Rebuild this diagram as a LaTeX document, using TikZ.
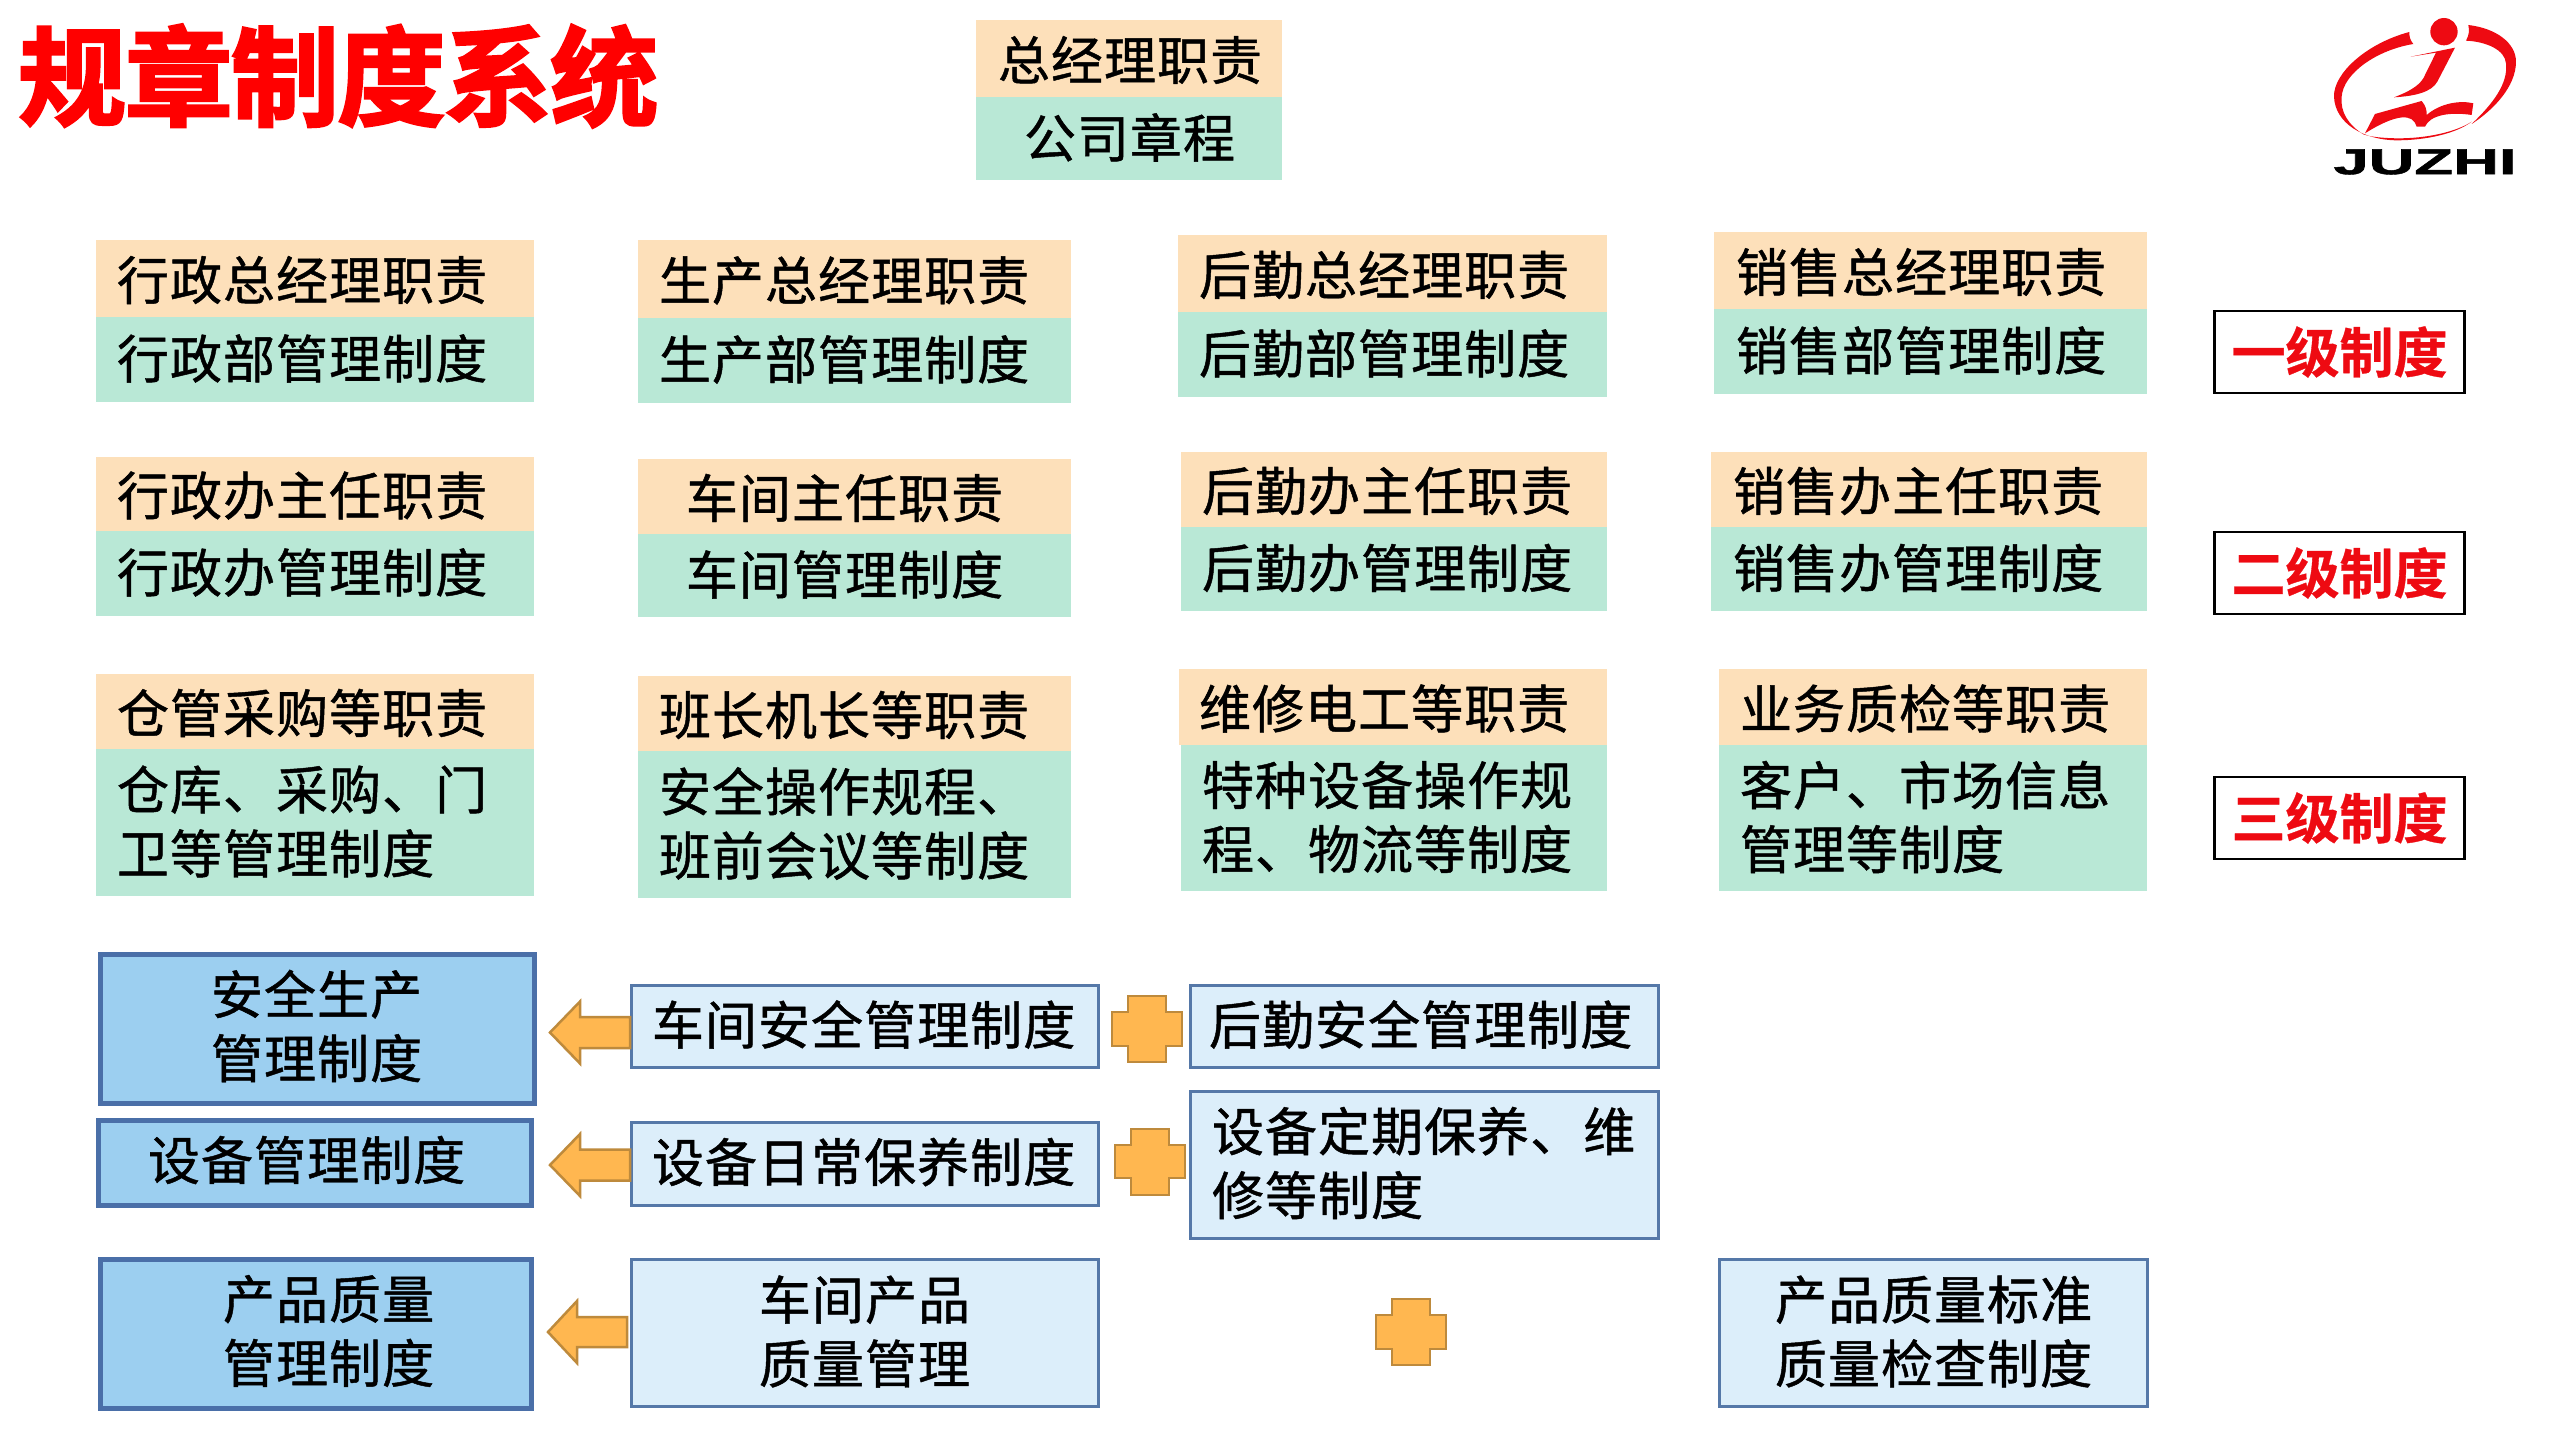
\documentclass[tikz,border=0pt]{standalone}
\usepackage{fontspec}
\setmainfont{Noto Sans CJK SC}
\newfontfamily\bodyf[LetterSpace=2,FakeBold=0.9]{Noto Sans CJK SC}
\newfontfamily\titlef[LetterSpace=-1.5,FakeBold=2.5]{Noto Sans CJK SC Bold}
\newfontfamily\levelf[LetterSpace=0,FakeBold=0.6]{Noto Sans CJK SC Bold}
\newfontfamily\logof[FakeBold=1.2]{Liberation Sans Bold}
\definecolor{peach}{HTML}{FDE0BA}
\definecolor{mint}{HTML}{B9E8D6}
\definecolor{bluefill}{HTML}{9CCFF0}
\definecolor{blueline}{HTML}{4A6FA8}
\definecolor{lightfill}{HTML}{DCEEFA}
\definecolor{lightline}{HTML}{5578A8}
\definecolor{orangefill}{HTML}{FFB750}
\definecolor{orangeline}{HTML}{BE8A3C}
\definecolor{titlered}{HTML}{FF0000}
\definecolor{logored}{HTML}{EE0A12}
\def\bxtail{0}
\tikzset{
  cell/.style={rectangle,inner sep=0pt,outer sep=0pt,font=\fontsize{52}{64}\selectfont\bodyf,text=black},
  duty/.style={cell,fill=peach,/utils/exec={\def\bxtail{-3}}},
  rule/.style={cell,fill=mint,/utils/exec={\def\bxtail{2}}},
  major/.style={cell,fill=bluefill,draw=blueline,line width=5pt,/utils/exec={\def\bxtail{6}}},
  minor/.style={cell,fill=lightfill,draw=lightline,line width=3pt,/utils/exec={\def\bxtail{3}}},
  level/.style={rectangle,inner sep=0pt,outer sep=0pt,draw=black,line width=2.5pt,fill=white,text=logored,font=\fontsize{54}{64}\selectfont\levelf},
  orangeshape/.style={fill=orangefill,draw=orangeline,line width=2.5pt,line join=miter},
  logoshape/.style={fill=logored,draw=none}
}
% name, style, x1, y1, x2, y2, text start x, text
\newcommand{\bx}[8]{%
  \pgfmathsetmacro\bxw{#5-#3}%
  \pgfmathsetmacro\bxh{#6-#4}%
  \pgfmathsetmacro\bxcx{(#3+#5)/2}%
  \pgfmathsetmacro\bxcy{(#4+#6)/2}%
  \pgfmathsetmacro\bxpad{#7-#3}%
  \node[#2,text width=\bxw pt,minimum height=\bxh pt] (#1) at (\bxcx,\bxcy)
    {\parindent=0pt\leftskip=\bxpad pt\rightskip=-200pt\relax\hbadness=10000 #8\par\vskip\bxtail pt\relax\hrule height 0pt width 0pt\relax};%
}
% plus sign: x1,x2 outer, ix1,ix2 inner, y1,y2 outer, iy1,iy2 inner
\newcommand{\plusmark}[8]{%
  \path[orangeshape] (#3,#5)--(#4,#5)--(#4,#7)--(#2,#7)--(#2,#8)--(#4,#8)--(#4,#6)--(#3,#6)--(#3,#8)--(#1,#8)--(#1,#7)--(#3,#7)--cycle;%
}
% arrow: tip x, base x, right x, centre y, head half, shaft half
\newcommand{\leftblock}[6]{%
  \path[orangeshape] (#1,#4)--(#2,#4-#5)--(#2,#4-#6)--(#3,#4-#6)--(#3,#4+#6)--(#2,#4+#6)--(#2,#4+#5)--cycle;%
}
\begin{document}
\begin{tikzpicture}[x=1pt,y=-1pt]
\useasboundingbox (0,0) rectangle (2560,1440);
\fill[white] (0,0) rectangle (2560,1440);

\node[anchor=west,inner sep=0pt,text=titlered,font=\fontsize{108}{110}\selectfont\titlef] (title) at (18,76) {规章制度系统};

% top
\bx{topa}{duty}{976}{20}{1282}{97}{998}{总经理职责}
\bx{topb}{rule}{976}{97}{1282}{180}{1024}{公司章程}

% row 1
\bx{aa}{duty}{96}{240}{534}{317}{117}{行政总经理职责}
\bx{ab}{rule}{96}{317}{534}{402}{117}{行政部管理制度}
\bx{ba}{duty}{638}{240}{1071}{318}{659}{生产总经理职责}
\bx{bb}{rule}{638}{318}{1071}{403}{659}{生产部管理制度}
\bx{ca}{duty}{1178}{235}{1607}{312}{1199}{后勤总经理职责}
\bx{cb}{rule}{1178}{312}{1607}{397}{1199}{后勤部管理制度}
\bx{da}{duty}{1714}{232}{2147}{309}{1736}{销售总经理职责}
\bx{db}{rule}{1714}{309}{2147}{394}{1736}{销售部管理制度}

% row 2
\bx{ea}{duty}{96}{457}{534}{531}{117}{行政办主任职责}
\bx{eb}{rule}{96}{531}{534}{616}{117}{行政办管理制度}
\bx{fa}{duty}{638}{459}{1071}{534}{686}{车间主任职责}
\bx{fb}{rule}{638}{534}{1071}{617}{686}{车间管理制度}
\bx{ga}{duty}{1181}{452}{1607}{527}{1202}{后勤办主任职责}
\bx{gb}{rule}{1181}{527}{1607}{611}{1202}{后勤办管理制度}
\bx{ha}{duty}{1711}{452}{2147}{527}{1733}{销售办主任职责}
\bx{hb}{rule}{1711}{527}{2147}{611}{1733}{销售办管理制度}

% row 3
\bx{ia}{duty}{96}{674}{534}{749}{117}{仓管采购等职责}
\bx{ib}{rule}{96}{749}{534}{896}{117}{仓库、采购、门\par 卫等管理制度}
\bx{ja}{duty}{638}{676}{1071}{751}{659}{班长机长等职责}
\bx{jb}{rule}{638}{751}{1071}{898}{659}{安全操作规程、\par 班前会议等制度}
\bx{ka}{duty}{1179}{669}{1607}{745}{1199}{维修电工等职责}
\bx{kb}{rule}{1181}{745}{1607}{891}{1202}{特种设备操作规\par 程、物流等制度}
\bx{la}{duty}{1719}{669}{2147}{745}{1740}{业务质检等职责}
\bx{lb}{rule}{1719}{745}{2147}{891}{1740}{客户、市场信息\par 管理等制度}

% level labels
\node[level,minimum width=250pt,minimum height=82pt] (lv1) at (2339.5,352) {一级制度};
\node[level,minimum width=250pt,minimum height=82pt] (lv2) at (2339.5,573) {二级制度};
\node[level,minimum width=250pt,minimum height=82pt] (lv3) at (2339.5,818) {三级制度};

% lower blocks
\bx{sa}{major}{100.5}{954.5}{534.5}{1103.5}{211}{安全生产\par 管理制度}
\bx{sb}{minor}{631}{985}{1098}{1067}{652}{车间安全管理制度}
\bx{sc}{minor}{1190.5}{985}{1658.5}{1067}{1209}{后勤安全管理制度}
\bx{ta}{major}{98.5}{1120.5}{531.5}{1205.5}{148}{设备管理制度}
\bx{tb}{minor}{631}{1122}{1098}{1205}{652}{设备日常保养制度}
\bx{tc}{minor}{1190.5}{1091}{1658.5}{1238}{1212}{设备定期保养、维\par 修等制度}
\bx{ua}{major}{100.5}{1259.5}{531.5}{1408.5}{223}{产品质量\par 管理制度}
\bx{ub}{minor}{631}{1259.5}{1098}{1406.5}{759}{车间产品\par 质量管理}
\bx{uc}{minor}{1719.5}{1259.5}{2147}{1406.5}{1775}{产品质量标准\par 质量检查制度}

% arrows
\leftblock{550}{580}{630}{1032.5}{31}{15.5}
\leftblock{550}{580}{630}{1165}{31}{15.5}
\leftblock{548}{577}{627}{1332}{31}{15}

% plus marks
\plusmark{1112}{1182}{1128}{1166}{996}{1062}{1012}{1046}
\plusmark{1115}{1185}{1131}{1169}{1129}{1195}{1145}{1178}
\plusmark{1376}{1446}{1392}{1430}{1299}{1365}{1315}{1349}

% logo
\begin{scope}[shift={(2200,0)},x=0.3333pt,y=-0.3333pt]
  \fill[logoshape] (732,95) circle[radius=41];
  \path[logoshape] (628,96) .. controls (500,130) and (400,220) .. (402,290)
     .. controls (405,370) and (490,420) .. (590,421)
     .. controls (680,421) and (770,400) .. (815,365)
     .. controls (770,395) and (680,416) .. (590,415)
     .. controls (540,414) and (510,410) .. (490,403)
     .. controls (445,375) and (420,335) .. (425,290)
     .. controls (430,220) and (530,150) .. (640,132)
     .. controls (630,120) and (628,110) .. (628,96) -- cycle;
  \path[logoshape] (805,75) .. controls (890,85) and (948,130) .. (948,185)
     .. controls (948,260) and (880,330) .. (815,372)
     .. controls (880,310) and (925,250) .. (918,190)
     .. controls (915,150) and (860,125) .. (798,122)
     .. controls (808,105) and (808,90) .. (805,75) -- cycle;
  \path[logoshape] (632,170) -- (765,143) -- (712,245)
     .. controls (695,275) and (650,288) .. (582,292)
     .. controls (640,270) and (665,250) .. (675,225) -- (708,158) -- cycle;
  \path[logoshape] (495,400) -- (525,342) -- (665,303)
     .. controls (678,318) and (680,330) .. (680,345)
     .. controls (720,310) and (780,300) .. (820,310) -- (815,345)
     .. controls (750,335) and (690,345) .. (675,380) -- (650,380)
     .. controls (640,340) and (590,340) .. (495,400) -- cycle;
\end{scope}
\node[inner sep=0pt,xscale=1.76,text=black,font=\fontsize{36}{36}\selectfont\logof] (logo) at (2425,162) {JUZHI};
\end{tikzpicture}
\end{document}
